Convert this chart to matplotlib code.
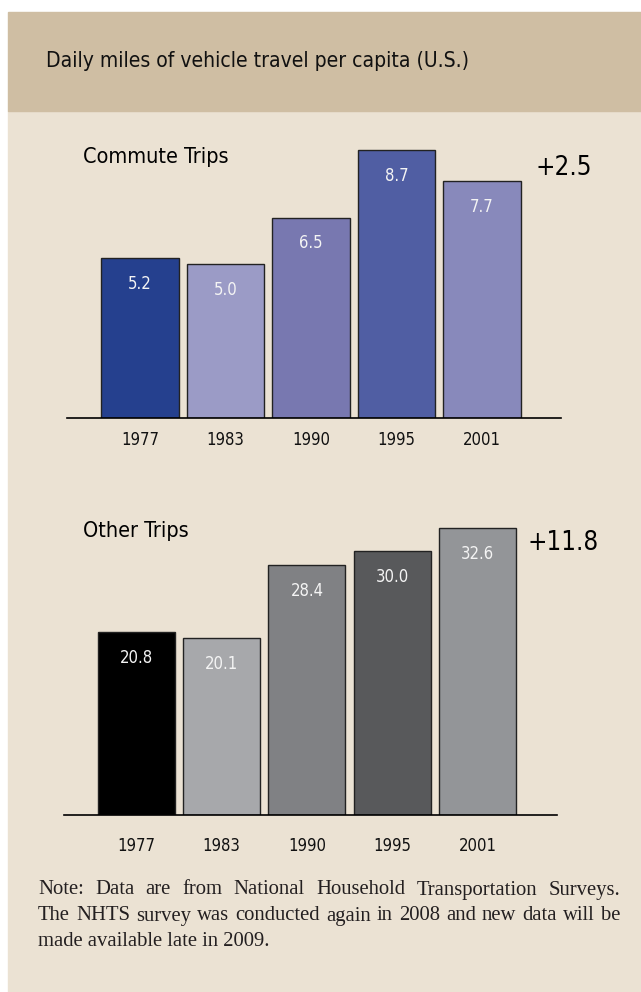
import matplotlib
matplotlib.use('Agg')
import matplotlib.pyplot as plt
from matplotlib.patches import Rectangle

# data
years = ['1977', '1983', '1990', '1995', '2001']
commute = [5.2, 5.0, 6.5, 8.7, 7.7]
other = [20.8, 20.1, 28.4, 30.0, 32.6]
commute_change = '+2.5'
other_change = '+11.8'
commute_colors = ['#25408e', '#9b9bc6', '#7878b0', '#505ea3', '#8889bb']
other_colors = ['#000000', '#a7a8ab', '#808184', '#58595b', '#939598']

title = 'Daily miles of vehicle travel per capita (U.S.)'
note_lines = ['Note:  Data are from National Household Transportation Surveys.',
              'The NHTS survey was conducted again in 2008 and new data will be',
              'made available late in 2009.']

W, H = 641, 992
NARROW = ['DejaVu Sans']
STRETCH = 'condensed'
SERIF = ['Liberation Serif', 'DejaVu Serif']

def fx(x):
    return x / W

def fy(y):
    return 1 - y / H

fig = plt.figure(figsize=(W / 100, H / 100), dpi=100)
fig.patch.set_facecolor('white')

# background panels
fig.patches.append(Rectangle((fx(8), fy(992)), fx(641) - fx(8), fy(111) - fy(992),
                             transform=fig.transFigure, color='#ebe2d3', zorder=-10))
fig.patches.append(Rectangle((fx(8), fy(111)), fx(641) - fx(8), fy(12) - fy(111),
                             transform=fig.transFigure, color='#cfbea3', zorder=-10))

fig.text(fx(46), fy(61), title, family=NARROW, stretch=STRETCH, fontsize=15.1, va='center', ha='left', color='#111111')


def bar_panel(left, right, top, base, xlim, ylim, values, colors, width, label, label_xy, change, change_xy, pad):
    ax = fig.add_axes([fx(left), fy(base), fx(right) - fx(left), fy(top) - fy(base)])
    ax.patch.set_alpha(0)
    x = range(len(values))
    ax.bar(x, values, width=width, color=colors, edgecolor='#222222', linewidth=1.0, zorder=2)
    for i, v in enumerate(values):
        ax.annotate('%.1f' % v, (i, v), xytext=(0, -18.5), textcoords='offset points',
                    ha='center', va='center', color='#f4f4f4', family=NARROW, stretch=STRETCH, fontsize=12)
    ax.set_xlim(*xlim)
    ax.set_ylim(*ylim)
    for s in ['top', 'left', 'right']:
        ax.spines[s].set_visible(False)
    ax.spines['bottom'].set_linewidth(1.2)
    ax.spines['bottom'].set_color('black')
    ax.set_yticks([])
    ax.set_xticks(list(x))
    ax.set_xticklabels(years, family=NARROW, stretch=STRETCH, fontsize=12, color='#111111')
    ax.tick_params(axis='x', length=0, pad=pad)
    fig.text(fx(label_xy[0]), fy(label_xy[1]), label, family=NARROW, stretch=STRETCH, fontsize=15.5, va='center', ha='left')
    fig.text(fx(change_xy[0]), fy(change_xy[1]), change, family=NARROW, stretch=STRETCH, fontsize=18.5, va='center', ha='left')
    return ax


# commute trips
bar_panel(67, 561, 130, 418, (-0.854, 4.924), (0, 288 / 30.8), commute, commute_colors, 0.912,
          'Commute Trips', (83, 157), commute_change, (535, 168), 9.5)

# other trips
bar_panel(64, 557, 500, 815, (-0.85, 4.933), (0, 315 / 8.8), other, other_colors, 0.903,
          'Other Trips', (83, 531), other_change, (528, 543), 15.5)

# justified note
renderer = fig.canvas.get_renderer()
x0, x1 = 38, 620
ys = [890, 916, 942]
for n, line in enumerate(note_lines):
    words = line.split()
    if n == len(note_lines) - 1:
        fig.text(fx(x0), fy(ys[n]), line, family=SERIF, fontsize=14.9, va='center', ha='left', color='#231f20')
        continue
    texts = [fig.text(0, 0, w, family=SERIF, fontsize=14.9, va='center', ha='left', color='#231f20') for w in words]
    widths = [t.get_window_extent(renderer).width for t in texts]
    gap = (x1 - x0 - sum(widths)) / (len(words) - 1)
    xpos = x0
    for t, w in zip(texts, widths):
        t.set_position((fx(xpos), fy(ys[n])))
        xpos += w + gap

fig.savefig('out.png', dpi=100)
